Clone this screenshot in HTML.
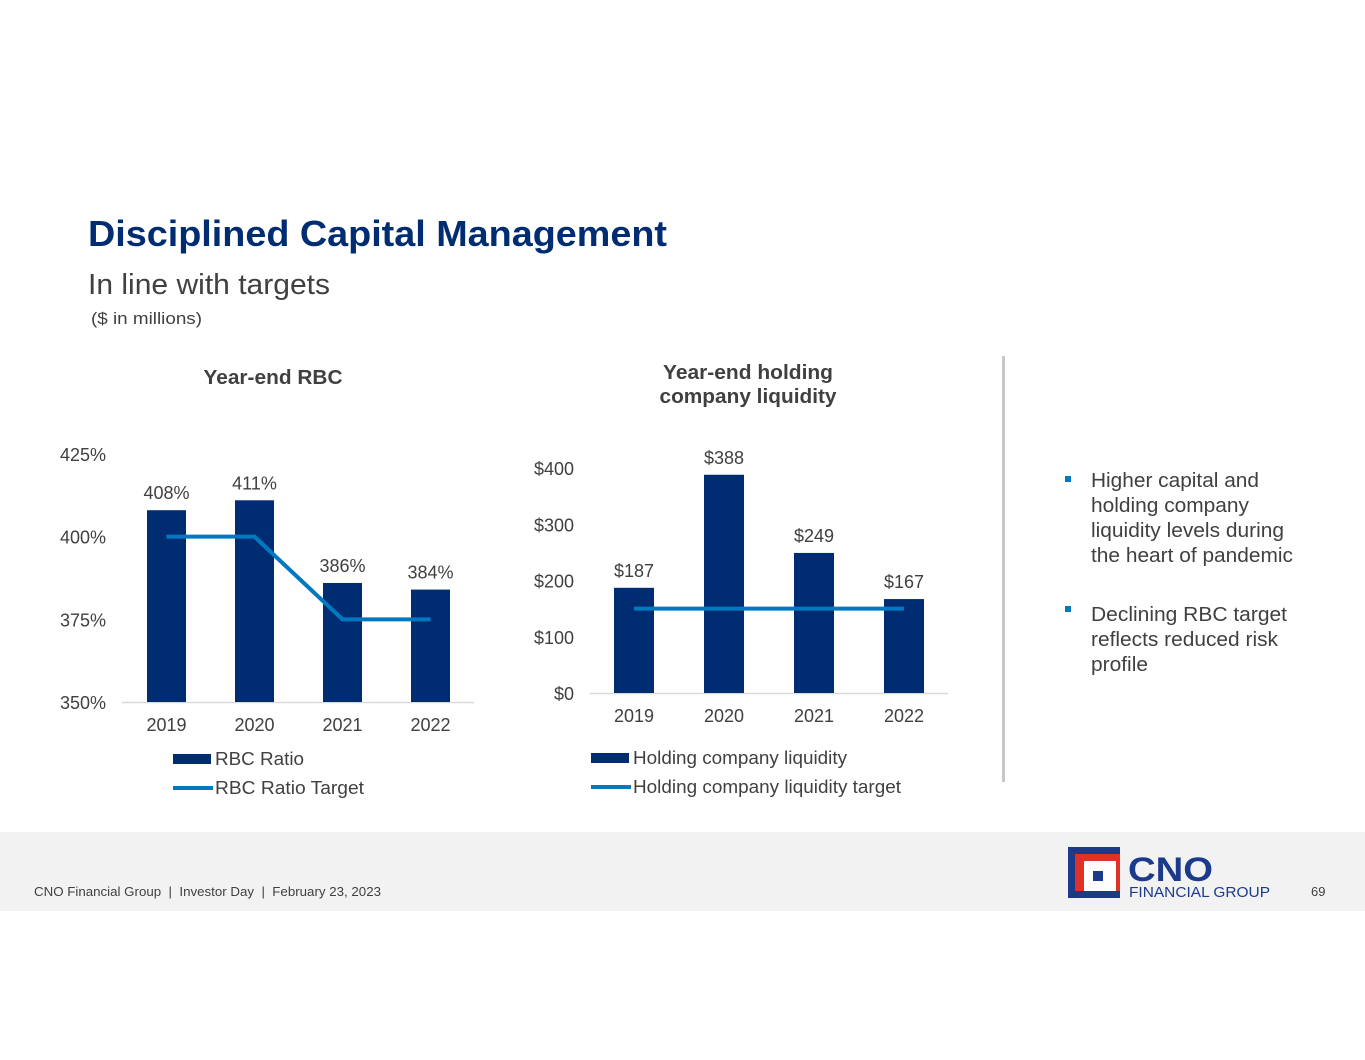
<!DOCTYPE html>
<html><head><meta charset="utf-8"><style>
html,body{margin:0;padding:0;background:#fff;}
body{width:1365px;height:1055px;position:relative;overflow:hidden;font-family:"Liberation Sans",Arial,sans-serif;}
svg text{font-family:"Liberation Sans",Arial,sans-serif;}
</style></head><body>
<svg id="s" width="1365" height="1055" viewBox="0 0 1365 1055" xmlns="http://www.w3.org/2000/svg">
<text x="88" y="246" font-size="36" font-weight="bold" fill="#002D72" textLength="579" lengthAdjust="spacingAndGlyphs">Disciplined Capital Management</text>
<text x="88" y="294" font-size="29" fill="#404040" textLength="242" lengthAdjust="spacingAndGlyphs">In line with targets</text>
<text x="91" y="324" font-size="17" fill="#404040" textLength="111" lengthAdjust="spacingAndGlyphs">($ in millions)</text>

<text x="273" y="384" font-size="20" font-weight="bold" fill="#404040" text-anchor="middle" textLength="139" lengthAdjust="spacingAndGlyphs">Year-end RBC</text>
<text x="748" y="379" font-size="20" font-weight="bold" fill="#404040" text-anchor="middle" textLength="170" lengthAdjust="spacingAndGlyphs">Year-end holding</text>
<text x="748" y="403" font-size="20" font-weight="bold" fill="#404040" text-anchor="middle" textLength="177" lengthAdjust="spacingAndGlyphs">company liquidity</text>

<g id="c1"></g>
<g id="c2"></g>

<rect x="1002" y="356" width="3" height="426" fill="#c8c8c8"/>
<rect x="1065" y="476" width="6" height="6" fill="#0079C1"/>
<g font-size="20" fill="#404040">
<text x="1091" y="487" textLength="168" lengthAdjust="spacingAndGlyphs">Higher capital and</text>
<text x="1091" y="512" textLength="158" lengthAdjust="spacingAndGlyphs">holding company</text>
<text x="1091" y="537" textLength="193" lengthAdjust="spacingAndGlyphs">liquidity levels during</text>
<text x="1091" y="562" textLength="202" lengthAdjust="spacingAndGlyphs">the heart of pandemic</text>
</g>
<rect x="1065" y="606" width="6" height="6" fill="#0079C1"/>
<g font-size="20" fill="#404040">
<text x="1091" y="621" textLength="196" lengthAdjust="spacingAndGlyphs">Declining RBC target</text>
<text x="1091" y="646" textLength="187" lengthAdjust="spacingAndGlyphs">reflects reduced risk</text>
<text x="1091" y="671" textLength="57" lengthAdjust="spacingAndGlyphs">profile</text>
</g>

<rect x="0" y="832" width="1365" height="79" fill="#f2f2f2"/>
<text x="34" y="896" font-size="13" fill="#404040" textLength="347" lengthAdjust="spacingAndGlyphs" xml:space="preserve">CNO Financial Group  |  Investor Day  |  February 23, 2023</text>
<g>
<rect x="1068" y="847" width="52" height="51" fill="#1B3A8C"/>
<rect x="1075" y="854" width="45" height="37" fill="#E03127"/>
<rect x="1084" y="861" width="32" height="30" fill="#fff"/>
<rect x="1093" y="871" width="10" height="10" fill="#1B3A8C"/>
<text x="1128" y="881" font-size="34" font-weight="bold" fill="#1B3A8C" textLength="85" lengthAdjust="spacingAndGlyphs">CNO</text>
<text x="1129" y="897" font-size="15" fill="#1B3A8C" textLength="141" lengthAdjust="spacingAndGlyphs">FINANCIAL GROUP</text>
</g>
<text x="1311" y="896" font-size="13" fill="#404040">69</text>
</svg>
<script>
const years = ["2019","2020","2021","2022"];
const rbcRatio = [408, 411, 386, 384];
const rbcTarget = [400, 400, 375, 375];
const rbcTicks = [350, 375, 400, 425];
const liqValues = [187, 388, 249, 167];
const liqTarget = [150, 150, 150, 150];
const liqTicks = [0, 100, 200, 300, 400];

const NS = "http://www.w3.org/2000/svg";
function mk(parent, tag, attrs, txt){
  const e = document.createElementNS(NS, tag);
  for (const k in attrs) e.setAttribute(k, attrs[k]);
  if (txt !== undefined) e.textContent = txt;
  parent.appendChild(e);
  return e;
}
function draw(g, cfg){
  const y = v => cfg.y0 - (v - cfg.vmin) * (cfg.y0 - cfg.y1) / (cfg.vmax - cfg.vmin);
  const x = i => cfg.x0 + i * cfg.step;
  cfg.ticks.forEach(t => {
    const e = mk(g, "text", {x: cfg.tickX, y: y(t) + 7, "font-size": 18, fill: "#404040", "text-anchor": "end"}, cfg.fmtTick(t));
    
    
  });
  const ax = mk(g, "line", {x1: cfg.axL, x2: cfg.axR, y1: cfg.y0 + 0.5, y2: cfg.y0 + 0.5, stroke: "#d9d9d9", "stroke-width": 1.5});
  
  
  cfg.vals.forEach((v, i) => {
    const b = mk(g, "rect", {x: x(i) - cfg.bw / 2, y: y(v), width: cfg.bw, height: cfg.y0 - y(v), fill: "#002D72"});
    
    
    const l = mk(g, "text", {x: x(i), y: y(v) - 11, "font-size": 18, fill: "#404040", "text-anchor": "middle"}, cfg.fmtVal(v));
    
    
    const c = mk(g, "text", {x: x(i), y: cfg.y0 + 29, "font-size": 18, fill: "#404040", "text-anchor": "middle"}, years[i]);
    
    
  });
  const pts = cfg.target.map((v, i) => x(i) + "," + y(v)).join(" ");
  const pl = mk(g, "polyline", {points: pts, fill: "none", stroke: "#0079C1", "stroke-width": 4});
  
  
  const lb = mk(g, "rect", {x: cfg.legX, y: cfg.legY - 11, width: 38, height: 10, fill: "#002D72"});
  
  
  const lt = mk(g, "text", {x: cfg.legX + 42, y: cfg.legY, "font-size": 18, fill: "#404040", textLength: cfg.leg1W, lengthAdjust: "spacingAndGlyphs"}, cfg.leg1);
  
  
  const ll = mk(g, "line", {x1: cfg.legX, x2: cfg.legX + 40, y1: cfg.legY + 23, y2: cfg.legY + 23, stroke: "#0079C1", "stroke-width": 4});
  
  
  const l2 = mk(g, "text", {x: cfg.legX + 42, y: cfg.legY + 29, "font-size": 18, fill: "#404040", textLength: cfg.leg2W, lengthAdjust: "spacingAndGlyphs"}, cfg.leg2);
  
  
}
draw(document.getElementById("c1"), {
  vals: rbcRatio, target: rbcTarget, ticks: rbcTicks, vmin: 350, vmax: 425,
  y0: 702, y1: 454, x0: 166.5, step: 88, bw: 39, tickX: 106, axL: 122, axR: 474,
  fmtTick: t => t + "%", fmtVal: v => v + "%", legX: 173, legY: 765,
  leg1: "RBC Ratio", leg2: "RBC Ratio Target", leg1W: 89, leg2W: 149
});
draw(document.getElementById("c2"), {
  vals: liqValues, target: liqTarget, ticks: liqTicks, vmin: 0, vmax: 400,
  y0: 693, y1: 468, x0: 634, step: 90, bw: 40, tickX: 574, axL: 590, axR: 948,
  fmtTick: t => "$" + t, fmtVal: v => "$" + v, legX: 591, legY: 764,
  leg1: "Holding company liquidity", leg2: "Holding company liquidity target", leg1W: 214, leg2W: 268
});
</script>
</body></html>
